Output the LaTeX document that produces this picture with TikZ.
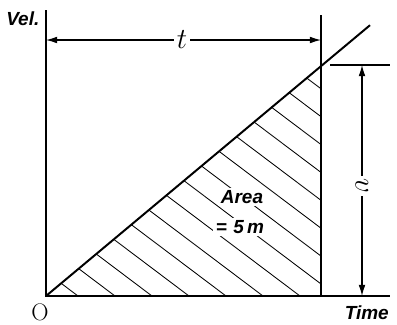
\documentclass[tikz,border=0pt]{standalone}
\usepackage{fontspec}
\setsansfont{Liberation Sans}
\usepackage{tikz}
\usetikzlibrary{arrows.meta,positioning,calc}
\tikzset{
  axis/.style={line width=1.4pt},
  hatch/.style={line width=0.6pt},
  dim/.style={{Latex[length=2.8mm,width=1.7mm]}-{Latex[length=2.8mm,width=1.7mm]}, line width=0.8pt},
  lbl/.style={font=\fontsize{13.5}{15}\selectfont\sffamily\bfseries\itshape, inner sep=1pt},
  sym/.style={font=\fontsize{20}{24}\selectfont, fill=white, inner sep=2pt},
}
\begin{document}
\begin{tikzpicture}
  \useasboundingbox (-1.15,-0.7) rectangle (8.775,7.4);
  % axes and the limit line
  \coordinate (O) at (0,0);
  \coordinate (ytop) at (0,7.15);
  \coordinate (xend) at (8.6,0);
  \coordinate (B) at (6.875,0);
  \coordinate (C) at (6.875,5.75);
  \coordinate (Btop) at (6.875,7.025);
  \coordinate (lineend) at (8.1,6.77);
  % hatching
  \begin{scope}
    \clip (O) -- (B) -- (C) -- cycle;
    \foreach \b in {0.8,1.725,...,14.5}
      \draw[hatch] (\b,0) -- ++(143:14);
  \end{scope}
  \draw[axis] (ytop) -- (O) -- (xend);
  \draw[axis] (Btop) -- (B);
  \draw[axis] (O) -- (lineend);
  % dimension t
  \coordinate (tl) at (0,6.4);
  \coordinate (tr) at (6.875,6.4);
  \draw[dim] (tl) -- node[sym, pos=0.495] (t) {$t$} (tr);
  % dimension v
  \coordinate (vtick) at (7.1,5.775);
  \coordinate (vtickend) at (8.6,5.775);
  \coordinate (vtop) at (7.9,5.775);
  \coordinate (vbot) at (7.9,0);
  \draw[line width=0.8pt] (vtick) -- (vtickend);
  \draw[dim] (vtop) -- node[sym, pos=0.524, rotate=-90] (v) {$v$} (vbot);
  % labels
  \node[lbl] (vel) at (-0.58,6.93) {Vel.};
  \node[lbl, fill=white, inner sep=2pt] (area) at (4.9,2.475) {Area};
  \node[lbl, fill=white, inner sep=2pt] (amount) at (4.85,1.725) {=\,\,5\,m};
  \node[font=\fontsize{17}{20}\selectfont] (origin) at (-0.15,-0.4) {O};
  \node[lbl] (time) at (8.02,-0.43) {Time};
\end{tikzpicture}
\end{document}
